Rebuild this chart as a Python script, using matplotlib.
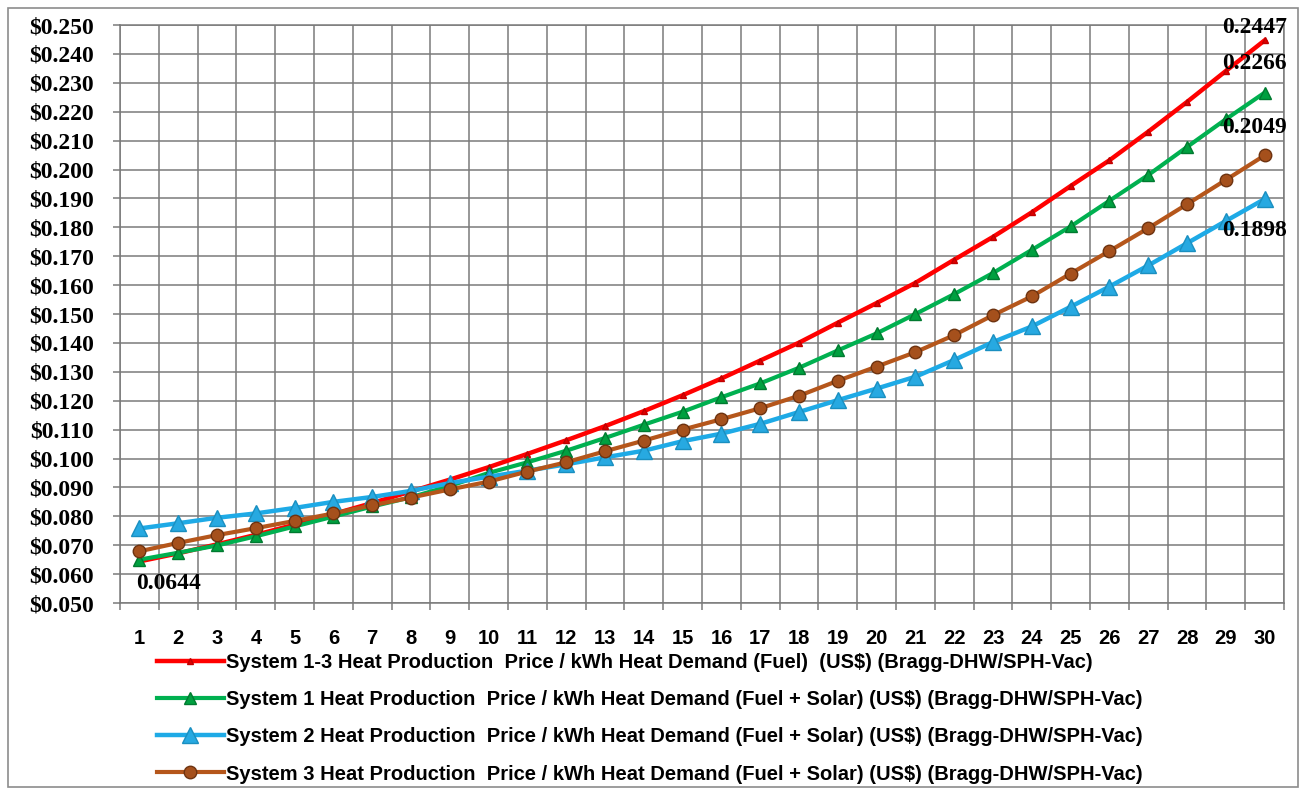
import matplotlib.pyplot as plt #plotting functions
import numpy as np #number functions
from matplotlib.patches import Rectangle #outer frame
from matplotlib.ticker import FuncFormatter, MultipleLocator #axis formatting

years=list(range(1,31)) #x categories
fuel_only=[0.0644,0.0672,0.0703,0.0736,0.0771,0.0808,0.0846,0.0886,0.0927,0.0970,
           0.1016,0.1063,0.1112,0.1164,0.1219,0.1277,0.1339,0.1401,0.1470,0.1538,
           0.1608,0.1688,0.1767,0.1852,0.1943,0.2032,0.2131,0.2234,0.2341,0.2447] #system 1-3 fuel
system1=[0.0650,0.0674,0.0699,0.0731,0.0765,0.0799,0.0834,0.0866,0.0905,0.0950,
         0.0987,0.1027,0.1071,0.1117,0.1162,0.1212,0.1260,0.1314,0.1374,0.1433,
         0.1500,0.1569,0.1642,0.1722,0.1803,0.1892,0.1981,0.2078,0.2174,0.2266] #system 1 fuel+solar
system2=[0.0758,0.0776,0.0795,0.0810,0.0829,0.0850,0.0867,0.0888,0.0915,0.0937,
         0.0958,0.0980,0.1004,0.1027,0.1060,0.1086,0.1120,0.1161,0.1202,0.1242,
         0.1283,0.1341,0.1403,0.1457,0.1525,0.1595,0.1668,0.1745,0.1822,0.1898] #system 2 fuel+solar
system3=[0.0679,0.0708,0.0735,0.0759,0.0784,0.0810,0.0838,0.0865,0.0893,0.0920,
         0.0955,0.0987,0.1025,0.1062,0.1100,0.1136,0.1174,0.1217,0.1269,0.1318,
         0.1368,0.1427,0.1496,0.1561,0.1640,0.1718,0.1797,0.1880,0.1964,0.2049] #system 3 fuel+solar
labels=['System 1-3 Heat Production  Price / kWh Heat Demand (Fuel)  (US$) (Bragg-DHW/SPH-Vac)',
        'System 1 Heat Production  Price / kWh Heat Demand (Fuel + Solar) (US$) (Bragg-DHW/SPH-Vac)',
        'System 2 Heat Production  Price / kWh Heat Demand (Fuel + Solar) (US$) (Bragg-DHW/SPH-Vac)',
        'System 3 Heat Production  Price / kWh Heat Demand (Fuel + Solar) (US$) (Bragg-DHW/SPH-Vac)']

sans=['Liberation Sans','DejaVu Sans']
serif=['Liberation Serif','DejaVu Serif']
grid_col='#7a7a7a'

fig=plt.figure(figsize=(13.02,7.90),dpi=100)
fig.patches.append(Rectangle((0.006,0.004),0.991,0.986,transform=fig.transFigure,fill=False,edgecolor='#8c8c8c',lw=1.2)) #outer chart border
ax=fig.add_axes([0.0922,0.2367,0.894,0.7316])

ax.plot(years,fuel_only,color='#ff0000',lw=3.2,marker='^',ms=5,mfc='#e00000',mec='#c00000',label=labels[0])
ax.plot(years,system1,color='#00b050',lw=3.0,marker='^',ms=9,mfc='#00a040',mec='#007a30',label=labels[1])
ax.plot(years,system2,color='#1eaae6',lw=3.2,marker='^',ms=12,mfc='#27a9e1',mec='#1a8fc0',label=labels[2])
ax.plot(years,system3,color='#b5561b',lw=3.0,marker='o',ms=9,mfc='#a5501c',mec='#6e3310',label=labels[3])

#data labels at the ends
lab_kw=dict(textcoords='offset points',ha='center',va='center',fontsize=17,fontweight='bold',family=serif)
ax.annotate('0.2447',(30,fuel_only[-1]),xytext=(-7,9),**lab_kw)
ax.annotate('0.2266',(30,system1[-1]),xytext=(-7,21),**lab_kw)
ax.annotate('0.2049',(30,system3[-1]),xytext=(-7,20),**lab_kw)
ax.annotate('0.1898',(30,system2[-1]),xytext=(-7,-23),**lab_kw)
ax.annotate('0.0644',(1,fuel_only[0]),xytext=(21,-16),**lab_kw)

ax.set_xlim(0.5,30.5)
ax.set_ylim(0.05,0.25)
ax.yaxis.set_major_locator(MultipleLocator(0.01))
ax.yaxis.set_major_formatter(FuncFormatter(lambda v,p:'$%.3f'%v))
ax.set_xticks(years)
ax.set_xticks(np.arange(0.5,31,1),minor=True)
ax.grid(True,axis='y',which='major',color=grid_col,lw=1.1)
ax.grid(True,axis='x',which='minor',color=grid_col,lw=1.1)
ax.tick_params(axis='y',length=5,width=1.1,color=grid_col,pad=14)
ax.tick_params(axis='x',which='major',length=0,pad=19)
ax.tick_params(axis='x',which='minor',length=5,width=1.1,color=grid_col)
for t in ax.get_yticklabels():
    t.set_fontfamily(serif);t.set_fontweight('bold');t.set_fontsize(17)
for t in ax.get_xticklabels():
    t.set_fontfamily(sans);t.set_fontweight('bold');t.set_fontsize(14.5)
for s in ax.spines.values():
    s.set_color(grid_col);s.set_linewidth(1.1)
ax.set_axisbelow(True)

fig.legend(loc='upper left',bbox_to_anchor=(0.113,0.186),frameon=False,handlelength=3.3,handletextpad=0.1,
           labelspacing=0.9,borderpad=0,prop={'family':sans,'weight':'bold','size':14.5})

plt.savefig('out.png',dpi=100) #save figure
